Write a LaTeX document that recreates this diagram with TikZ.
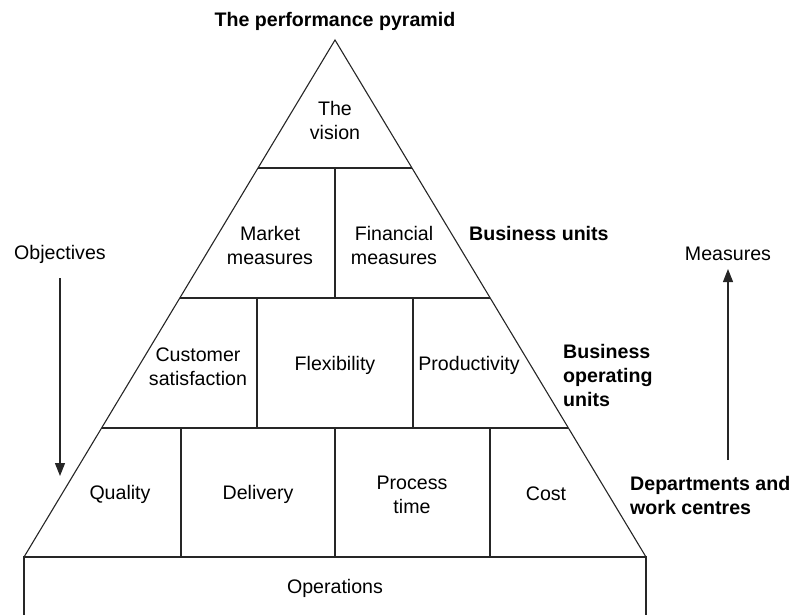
\documentclass[tikz,border=0pt]{standalone}
\usepackage{fontspec}
\setmainfont{Liberation Sans}
\usetikzlibrary{arrows.meta}
\begin{document}
\begin{tikzpicture}[x=1pt,y=-1pt,
  lbl/.style={font=\fontsize{19.6}{24}\selectfont, align=center, inner sep=0pt},
  blbl/.style={font=\fontsize{19.6}{24}\selectfont\bfseries, align=left, inner sep=0pt},
  edge/.style={line width=1.1pt, draw=black!85},
  arr/.style={line width=1.1pt, draw=black!85, -{Triangle[length=13pt,width=10pt]}}]
\useasboundingbox (0,0) rectangle (795,615);
% pyramid corners
\coordinate (apex) at (335,40);
\coordinate (bl) at (24,557);
\coordinate (br) at (646,557);
\coordinate (l1) at (258,168); \coordinate (r1) at (412,168);
\coordinate (l2) at (179.6,298); \coordinate (r2) at (490.4,298);
\coordinate (l3) at (101.6,428); \coordinate (r3) at (568.4,428);
\draw[edge] (bl) -- (apex) -- (br) -- cycle;
\draw[edge] (l1) -- (r1);
\draw[edge] (l2) -- (r2);
\draw[edge] (l3) -- (r3);
\draw[edge] (335,168) -- (335,298);
\draw[edge] (257,298) -- (257,428);
\draw[edge] (413,298) -- (413,428);
\draw[edge] (181,428) -- (181,557);
\draw[edge] (335,428) -- (335,557);
\draw[edge] (490,428) -- (490,557);
% operations box
\coordinate (ol) at (24,616); \coordinate (or) at (646,616);
\draw[edge] (ol) -- (bl) -- (br) -- (or);
% texts
\node[blbl] (title) at (335,21) {The performance pyramid};
\node[lbl] (vision) at (335,120) {The\\vision};
\node[lbl] (market) at (270,245) {Market\\measures};
\node[lbl] (financial) at (394,245) {Financial\\measures};
\node[blbl, anchor=west] (bu) at (469,233) {Business units};
\node[lbl] (customer) at (198,367) {Customer\\satisfaction};
\node[lbl] (flex) at (335,365) {Flexibility};
\node[lbl] (prod) at (469,365) {Productivity};
\node[blbl, anchor=west] (bou) at (563,375) {Business\\operating\\units};
\node[lbl] (quality) at (120,494) {Quality};
\node[lbl] (delivery) at (258,494) {Delivery};
\node[lbl] (process) at (412,495) {Process\\time};
\node[lbl] (cost) at (546,494) {Cost};
\node[blbl, anchor=west] (dept) at (630,495) {Departments and\\work centres};
\node[lbl] (ops) at (335,588) {Operations};
\node[lbl] (obj) at (60,254) {Objectives};
\node[lbl] (meas) at (728,254) {Measures};
% arrows
\coordinate (o1) at (60,278); \coordinate (o2) at (60,476);
\coordinate (m1) at (728,460); \coordinate (m2) at (728,269);
\draw[arr] (o1) -- (o2);
\draw[arr] (m1) -- (m2);
\end{tikzpicture}
\end{document}
